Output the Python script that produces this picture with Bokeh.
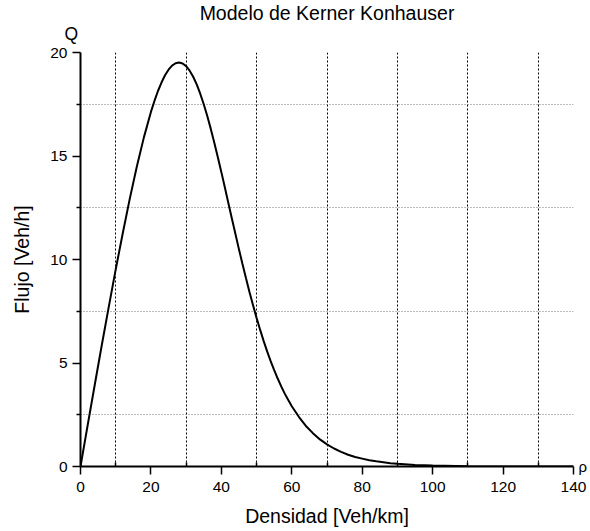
from bokeh.plotting import figure
from bokeh.models import FixedTicker, Grid, LinearAxis, Range1d, Title
from bokeh.embed import file_html
from bokeh.resources import INLINE

# Data: density (Veh/km) vs flow
densidad = [0, 2, 4, 6, 8, 10, 12, 14, 16, 18, 20, 21, 22, 23, 24, 25, 26, 27, 28, 29,
            30, 31, 32, 33, 34, 35, 36, 37, 38, 39, 40, 41, 42, 43, 44, 45, 46, 47, 48,
            49, 50, 51, 52, 53, 54, 55, 56, 57, 58, 59, 60, 62, 64, 66, 68, 70, 72, 74,
            76, 78, 80, 82, 84, 88, 90, 95, 100, 110, 120, 130, 140]
flujo = [0.0, 1.96, 3.90, 5.82, 7.69, 9.52, 11.27, 12.94, 14.49, 15.90, 17.13, 17.66,
         18.14, 18.55, 18.90, 19.17, 19.37, 19.48, 19.52, 19.47, 19.34, 19.12, 18.83,
         18.46, 18.01, 17.50, 16.93, 16.31, 15.64, 14.94, 14.22, 13.48, 12.72, 11.97,
         11.23, 10.49, 9.78, 9.09, 8.42, 7.79, 7.18, 6.61, 6.07, 5.56, 5.09, 4.66, 4.25,
         3.87, 3.52, 3.21, 2.91, 2.40, 1.96, 1.61, 1.31, 1.07, 0.87, 0.71, 0.57, 0.46,
         0.38, 0.30, 0.25, 0.16, 0.13, 0.075, 0.043, 0.015, 0.005, 0.002, 0.0]

x_major = [0, 20, 40, 60, 80, 100, 120, 140]
x_minor = [10, 30, 50, 70, 90, 110, 130]
y_major = [0, 5, 10, 15, 20]
y_minor = [2.5, 7.5, 12.5, 17.5]

FONT = "Liberation Sans"

p = figure(width=590, height=531, output_backend="svg", toolbar_location=None,
           x_range=Range1d(0, 140), y_range=Range1d(0, 20),
           min_border_left=80, min_border_right=14, min_border_top=52, min_border_bottom=65)
p.outline_line_color = None
p.background_fill_color = "white"
p.border_fill_color = "white"

p.title = Title(text="Modelo de Kerner Konhauser", align="center", text_font=FONT,
                text_font_size="19.5px", text_font_style="normal", text_color="black",
                standoff=-22)

# "Q" symbol above the flow axis
p.add_layout(Title(text="Q", align="left", offset=-16, standoff=18, text_font=FONT,
                   text_font_size="17.5px", text_font_style="normal", text_color="black"),
             "above")

p.xgrid.visible = False
p.ygrid.visible = False

p.xaxis.ticker = FixedTicker(ticks=x_major, minor_ticks=x_minor)
p.yaxis.ticker = FixedTicker(ticks=y_major, minor_ticks=y_minor)

for ax in (p.xaxis[0], p.yaxis[0]):
    ax.axis_line_color = "black"
    ax.axis_line_width = 2
    ax.major_tick_line_color = "black"
    ax.major_tick_line_width = 1.5
    ax.minor_tick_line_color = "black"
    ax.minor_tick_line_width = 1.5
    ax.major_label_text_font = FONT
    ax.major_label_text_font_size = "15.5px"
    ax.major_label_text_color = "black"
    ax.axis_label_text_font = FONT
    ax.axis_label_text_font_size = "19.5px"
    ax.axis_label_text_font_style = "normal"
    ax.axis_label_text_color = "black"

p.xaxis.axis_label = "Densidad [Veh/km]"
p.yaxis.axis_label = "Flujo [Veh/h]"
p.xaxis.major_tick_out = 8
p.xaxis.major_tick_in = 0
p.xaxis.minor_tick_in = 4
p.xaxis.minor_tick_out = 0
p.xaxis.major_label_standoff = 7
p.xaxis.axis_label_standoff = 10
p.yaxis.major_tick_out = 8
p.yaxis.major_tick_in = 0
p.yaxis.minor_tick_out = 4
p.yaxis.minor_tick_in = 0
p.yaxis.major_label_standoff = 5
p.yaxis.axis_label_standoff = 14

# "ρ" symbol at the end of the density axis (single tick label of a right axis)
r_axis = LinearAxis(ticker=FixedTicker(ticks=[0]), bounds=(-0.5, 0.5),
                    major_label_overrides={0: "ρ"},
                    axis_line_color=None, major_tick_out=0, major_tick_in=0,
                    minor_tick_out=0, minor_tick_in=0, major_label_standoff=5,
                    major_label_text_font=FONT, major_label_text_font_size="15px",
                    major_label_text_color="black")
p.add_layout(r_axis, "right")

vgrid = Grid(dimension=0, ticker=FixedTicker(ticks=x_minor),
             grid_line_color="black", grid_line_width=1, grid_line_dash="2 2")
hgrid = Grid(dimension=1, ticker=FixedTicker(ticks=y_minor),
             grid_line_color="#777777", grid_line_width=1, grid_line_dash="1 2")
p.add_layout(vgrid)
p.add_layout(hgrid)

p.line(densidad, flujo, line_color="black", line_width=2)

open("out.html", "w").write(file_html(p, INLINE))
